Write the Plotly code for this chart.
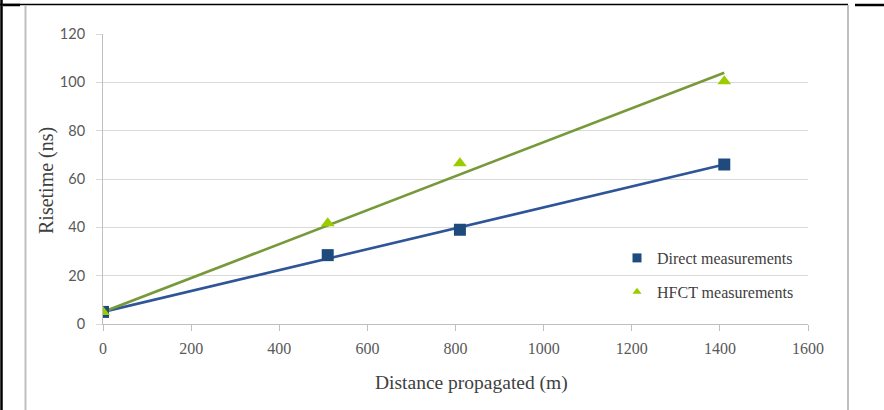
import plotly.graph_objects as go

# ---- data ----
distance = [0, 510, 810, 1410]
direct_risetime = [5, 28.5, 39, 66]
hfct_risetime = [5, 41.7, 66.5, 100.5]
trend_x = [0, 1410]
direct_trend = [5, 66]
hfct_trend = [5, 104]
x_ticks = [0, 200, 400, 600, 800, 1000, 1200, 1400, 1600]
y_ticks = [0, 20, 40, 60, 80, 100, 120]
series_names = ["Direct measurements", "HFCT measurements"]

W, H = 884, 410
L, R, T, B = 103, 808, 34, 324

def px(x):
    return (x - L) / (R - L)

def py(y):
    return (B - y) / (B - T)

BLUE_LINE = "#2E5597"
BLUE_MARK = "#1F4A7E"
GREEN_LINE = "#77993A"
GREEN_MARK = "#9ACD00"

fig = go.Figure()
fig.add_trace(go.Scatter(x=trend_x, y=direct_trend, mode="lines",
                         line=dict(color=BLUE_LINE, width=2.6), showlegend=False, hoverinfo="skip"))
fig.add_trace(go.Scatter(x=trend_x, y=hfct_trend, mode="lines",
                         line=dict(color=GREEN_LINE, width=2.6), showlegend=False, hoverinfo="skip"))
fig.add_trace(go.Scatter(x=distance, y=direct_risetime, mode="markers",
                         marker=dict(symbol="square", size=12, color=BLUE_MARK), showlegend=False))
fig.add_trace(go.Scatter(x=distance, y=hfct_risetime, mode="markers",
                         marker=dict(symbol="triangle-up", size=12, color=GREEN_MARK), showlegend=False))
# legend entries
fig.add_trace(go.Scatter(x=[None], y=[None], mode="markers", name=series_names[0], legendgroup="a",
                         marker=dict(symbol="square", size=9, color=BLUE_MARK)))
fig.add_trace(go.Scatter(x=[None], y=[None], mode="markers", name=series_names[1], legendgroup="b",
                         marker=dict(symbol="triangle-up", size=8, color=GREEN_MARK)))

serif = "Liberation Serif, Times New Roman, serif"
fig.update_xaxes(range=[0, 1600], tickvals=x_ticks, showgrid=False, zeroline=False,
                 showline=True, linecolor="#BFBFBF", linewidth=1,
                 ticks="outside", ticklen=6, tickcolor="#BFBFBF",
                 tickfont=dict(family=serif, size=16, color="#595959"), ticklabelstandoff=4)
fig.update_yaxes(range=[0, 120], tickvals=y_ticks, showgrid=True, gridcolor="#D9D9D9", gridwidth=1,
                 zeroline=False, showline=True, linecolor="#BFBFBF", linewidth=1,
                 ticks="outside", ticklen=6, tickcolor="#D9D9D9",
                 tickfont=dict(family="Lato, Liberation Sans, sans-serif", size=14.5, color="#595959"),
                 ticklabelstandoff=8)

annotations = [
    dict(text="Distance propagated (m)", xref="paper", yref="paper", x=px(471), y=py(383),
         showarrow=False, font=dict(family=serif, size=19.5, color="#404040"),
         xanchor="center", yanchor="middle"),
    dict(text="Risetime (ns)", xref="paper", yref="paper", x=px(46), y=py(180),
         showarrow=False, textangle=-90, font=dict(family=serif, size=20, color="#404040"),
         xanchor="center", yanchor="middle"),
]

def line(x0, y0, x1, y1, color, width):
    return dict(type="line", xref="paper", yref="paper", x0=px(x0), y0=py(y0), x1=px(x1), y1=py(y1),
                line=dict(color=color, width=width), layer="above")

shapes = [
    line(0, 4.5, 848, 4.5, "#000000", 1.5),
    line(1.5, 0, 1.5, 410, "#000000", 2.5),
    line(3, 5, 20, 5, "#000000", 2.5),
    line(855, 5, 884, 5, "#000000", 2.5),
    line(25.5, 5, 25.5, 410, "#BFBFBF", 2),
    line(848, 5, 848, 410, "#BFBFBF", 2),
]

fig.update_layout(
    width=W, height=H,
    margin=dict(l=L, r=W - R, t=T, b=H - B, pad=0),
    paper_bgcolor="white", plot_bgcolor="white",
    showlegend=True,
    legend=dict(x=px(617), y=py(241), xanchor="left", yanchor="top",
                font=dict(family=serif, size=16, color="#404040"),
                traceorder="grouped", tracegroupgap=10, bgcolor="rgba(0,0,0,0)",
                itemsizing="trace"),
    annotations=annotations,
    shapes=shapes,
)

fig.write_html("out.html")
